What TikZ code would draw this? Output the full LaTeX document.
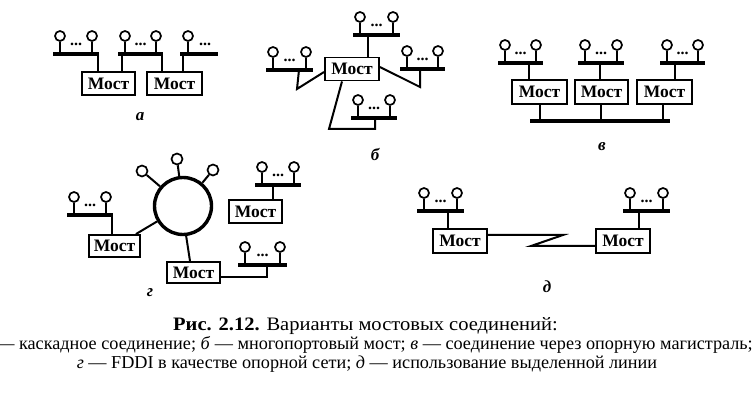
\documentclass[tikz,border=0pt]{standalone}
\usepackage{fontspec}
\setmainfont{Liberation Serif}
\newfontfamily\capfont{Liberation Serif}
\newfontfamily\headfont[FakeStretch=1.08]{Liberation Serif}
\usetikzlibrary{calc}
\tikzset{
  bus/.style={line width=3.4pt},
  wire/.style={line width=2pt},
  spine/.style={line width=4.5pt},
  stn/.style={circle, draw, line width=1.7pt, minimum size=10pt, inner sep=0pt},
  most/.style={draw, line width=1.9pt, minimum height=23pt, minimum width=54pt, inner sep=0pt,
    font=\bfseries\fontsize{17.5}{17.5}\selectfont},
  dotstxt/.style={anchor=base, inner sep=0pt, font=\bfseries\fontsize{16}{16}\selectfont},
  panel/.style={inner sep=0pt, font=\bfseries\itshape\fontsize{17}{17}\selectfont},
  captext/.style={inner sep=0pt, font=\capfont\fontsize{18.2}{20}\selectfont},
  headtext/.style={inner sep=0pt, font=\headfont\fontsize{19}{20}\selectfont},
}
\newcommand\lanseg[4]{%
  \draw[bus] (#2,#4) coordinate (#1-l) -- (#3,#4) coordinate (#1-r);
  \node[stn] (#1-a) at (#2+7,#4-18) {};
  \node[stn] (#1-b) at (#3-7,#4-18) {};
  \draw[wire] (#1-a.south) -- (#1-a.south |- #1-l);
  \draw[wire] (#1-b.south) -- (#1-b.south |- #1-l);
  \node[dotstxt] (#1-d) at ($(#1-a)!0.5!(#1-b)+(0,10)$) {...};
}
\begin{document}
\begin{tikzpicture}[x=1pt,y=-1pt]
\useasboundingbox (0,0) rectangle (754,411);
\clip (0,0) rectangle (754,411);
\fill[white] (0,0) rectangle (754,411);

% ---------- panel a ----------
\lanseg{A1}{53}{99}{54}
\lanseg{A2}{118}{163}{54}
\draw[bus] (180,54) coordinate (A3-l) -- (218,54) coordinate (A3-r);
\node[stn] (A3-a) at (188,36) {};
\draw[wire] (A3-a.south) -- (A3-a.south |- A3-l);
\node[dotstxt] (A3-d) at (205,46) {...};
\node[most, minimum width=53pt] (Ma1) at (108.5,83.5) {Мост};
\node[most, minimum width=55pt] (Ma2) at (174.5,83.5) {Мост};
\coordinate (A1-p) at (98,54);
\coordinate (A2-p) at (122,54);
\coordinate (A2-q) at (162,54);
\coordinate (A3-p) at (183,54);
\draw[wire] (A1-p) -- (A1-p |- Ma1.north);
\draw[wire] (A2-p) -- (A2-p |- Ma1.north);
\draw[wire] (A2-q) -- (A2-q |- Ma2.north);
\draw[wire] (A3-p) -- (A3-p |- Ma2.north);
\node[panel] (La) at (140,117) {а};

% ---------- panel b ----------
\node[most] (Mb) at (352,69) {Мост};
\lanseg{B1}{353}{400}{35}
\lanseg{B2}{266}{313}{70}
\lanseg{B3}{400}{445}{69}
\lanseg{B4}{351}{397}{118}
\coordinate (B1-p) at (368,35);
\draw[wire] (B1-p) -- (B1-p |- Mb.north);
\coordinate (B2-p) at (299,70);
\coordinate (B2-k) at (297,89);
\draw[wire] (B2-p) -- (B2-k) -- ($(Mb.west)+(0,3)$);
\coordinate (B3-p) at (420,69);
\coordinate (B3-k) at (420,87);
\draw[wire] (B3-p) -- (B3-k) -- ($(Mb.east)+(0,-2)$);
\coordinate (B4-k1) at (329,129);
\coordinate (B4-k2) at (375,129);
\coordinate (B4-p) at (375,118);
\draw[wire] ($(Mb.south)+(-10,0)$) -- (B4-k1) -- (B4-k2) -- (B4-p);
\node[panel] (Lb) at (375,155) {б};

% ---------- panel v ----------
\lanseg{C1}{498}{543}{63}
\lanseg{C2}{578}{624}{63}
\lanseg{C3}{660}{705}{63}
\node[most, minimum width=55pt, minimum height=24pt] (Mc1) at (539.5,92) {Мост};
\node[most, minimum width=53pt, minimum height=24pt] (Mc2) at (601.5,92) {Мост};
\node[most, minimum width=55pt, minimum height=24pt] (Mc3) at (664.5,92) {Мост};
\draw[spine] (530,121) coordinate (BB-l) -- (670,121) coordinate (BB-r);
\coordinate (C1-p) at (529,63);
\coordinate (C2-p) at (600,63);
\coordinate (C3-p) at (675,63);
\draw[wire] (C1-p) -- (C1-p |- Mc1.north);
\draw[wire] (C2-p) -- (C2-p |- Mc2.north);
\draw[wire] (C3-p) -- (C3-p |- Mc3.north);
\coordinate (C1-s) at (540,104);
\coordinate (C2-s) at (601,104);
\coordinate (C3-s) at (663,104);
\draw[wire] (C1-s) -- (C1-s |- BB-l);
\draw[wire] (C2-s) -- (C2-s |- BB-l);
\draw[wire] (C3-s) -- (C3-s |- BB-l);
\node[panel] (Lc) at (602,147) {в};

% ---------- panel g ----------
\node[circle, draw, line width=3.4pt, minimum size=57pt, inner sep=0pt] (ring) at (183,206) {};
\node[stn, minimum size=11pt] (R1) at (142,171) {};
\node[stn, minimum size=11pt] (R2) at (177,159) {};
\node[stn, minimum size=11pt] (R3) at (213,170) {};
\draw[wire] (R1) -- (ring);
\draw[wire] (R2) -- (ring);
\draw[wire] (R3) -- (ring);
\lanseg{D1}{67}{113}{215}
\node[most, minimum width=51pt, minimum height=22pt] (Md1) at (114.5,246) {Мост};
\coordinate (D1-p) at (112,215);
\draw[wire] (D1-p) -- (D1-p |- Md1.north);
\draw[wire] ($(Md1.north east)+(-5,0)$) -- (ring);
\lanseg{D2}{255}{301}{185}
\node[most, minimum width=53pt] (Md2) at (255.5,211.5) {Мост};
\coordinate (D2-p) at (273,185);
\draw[wire] (D2-p) -- (D2-p |- Md2.north);
\node[most, minimum width=53pt, minimum height=21pt] (Md3) at (193.5,272.5) {Мост};
\draw[wire] (ring.276) -- ($(Md3.north)+(-3.5,0)$);
\lanseg{D3}{238}{287}{265}
\coordinate (D3-k) at (267,277);
\coordinate (D3-p) at (267,265);
\draw[wire] (Md3.east |- D3-k) -- (D3-k) -- (D3-p);
\node[panel] (Ld) at (150,293) {г};

% ---------- panel d ----------
\lanseg{E1}{417}{464}{211}
\lanseg{E2}{623}{670}{211}
\node[most, minimum width=54pt, minimum height=24pt] (Me1) at (460,241) {Мост};
\node[most, minimum width=54pt, minimum height=24pt] (Me2) at (623,241) {Мост};
\coordinate (E1-p) at (448,211);
\coordinate (E2-p) at (639,211);
\draw[wire] (E1-p) -- (E1-p |- Me1.north);
\draw[wire] (E2-p) -- (E2-p |- Me2.north);
\coordinate (Z1) at (563,235);
\coordinate (Z2) at (531,246);
\draw[wire] (Me1.east |- Z1) -- (Z1) -- (Z2) -- (Me2.west |- Z2);
\node[panel] (Le) at (547,287) {д};

% ---------- caption ----------
\node[headtext, anchor=base west] (cap1) at (173,330) {\textbf{Рис. 2.12.} Варианты мостовых соединений:};
\node[captext, anchor=base east] (cap2) at (753,349) {\textit{а} — каскадное соединение; \textit{б} — многопортовый мост; \textit{в} — соединение через опорную магистраль;};
\node[captext, anchor=base] (cap3) at (367,368) {\textit{г} — FDDI в качестве опорной сети; \textit{д} — использование выделенной линии};
\end{tikzpicture}
\end{document}
